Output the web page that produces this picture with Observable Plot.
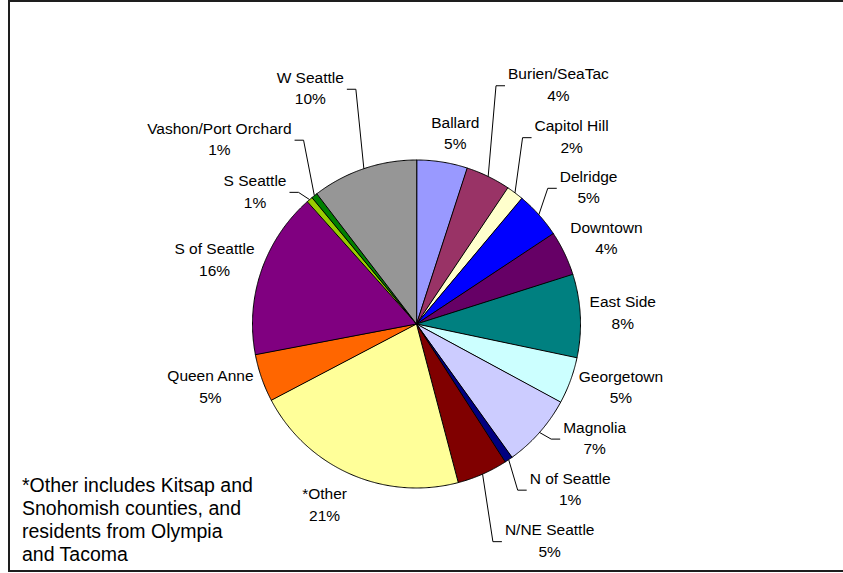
<!DOCTYPE html>
<html><head><meta charset="utf-8">
<script src="https://cdn.jsdelivr.net/npm/d3@7"></script>
<script src="https://cdn.jsdelivr.net/npm/@observablehq/plot@0.6"></script>
<style>
html,body{margin:0;padding:0;background:#fff;}
#wrap{position:relative;width:843px;height:573px;overflow:hidden;}
#chart{position:absolute;left:0;top:0;}
#frame{position:absolute;left:8px;top:0;width:900px;height:572px;border:2px solid #1e1e1e;box-sizing:border-box;pointer-events:none;}
</style></head><body>
<div id="wrap"><div id="chart"></div><div id="frame"></div></div>
<script>
// Data (clockwise from 12 o'clock)
const names = ["Ballard","Burien/SeaTac","Capitol Hill","Delridge","Downtown","East Side","Georgetown","Magnolia","N of Seattle","N/NE Seattle","*Other","Queen Anne","S of Seattle","S Seattle","Vashon/Port Orchard","W Seattle"];
const values = [5.0, 4.4, 1.7, 4.6, 4.4, 8.2, 4.6, 7.2, 0.8, 5.0, 21.4, 4.7, 16.4, 0.6, 0.6, 10.4];
const colors = ["#9999FF","#993366","#FFFFCC","#0000FF","#660066","#008080","#CCFFFF","#CCCCFF","#000080","#800000","#FFFF99","#FF6600","#800080","#99CC00","#008000","#969696"];
const hasLeader = [false,true,true,true,false,false,false,true,true,true,false,false,false,true,true,true];
// Label layout: angle nudge from slice middle (degrees) and distance (in pie radii)
const labelNudge = [2.4, 4.6, 2.5, 3.0, 0.9, -0.7, -3.4, -9.1, -9.0, -8.0, 3.4, 2.7, -0.7, -9.6, -8.1, -5.4];
const labelRadius = [1.197, 1.704, 1.49, 1.346, 1.274, 1.26, 1.302, 1.285, 1.369, 1.543, 1.228, 1.311, 1.295, 1.28, 1.654, 1.585];
const footnote = "*Other includes Kitsap and\nSnohomish counties, and\nresidents from Olympia\nand Tacoma";

const W = 843, H = 573, CX = 416, CY = 323.5, R = 164;
const FS = 15.5;
const FONT = "'Liberation Sans', Arial, Helvetica, sans-serif";

const data = names.map((name, i) => ({name, value: values[i], color: colors[i], i}));
const total = d3.sum(values);
const arcs = d3.pie().sort(null).value(d => d.value)(data);

const ctx = document.createElement("canvas").getContext("2d");
ctx.font = `${FS}px ${FONT}`;

const slicePts = [];
const labels = [];
const leaderPts = [];
const deg = Math.PI / 180;
for (const a of arcs) {
  const d = a.data;
  slicePts.push({name: d.name, color: d.color, x: 0, y: 0});
  const n = Math.max(2, Math.ceil((a.endAngle - a.startAngle) / (0.4 * deg)));
  for (let k = 0; k <= n; ++k) {
    const t = a.startAngle + (a.endAngle - a.startAngle) * k / n;
    slicePts.push({name: d.name, color: d.color, x: Math.sin(t), y: -Math.cos(t)});
  }
  const mid = (a.startAngle + a.endAngle) / 2;
  const la = mid + labelNudge[d.i] * deg;
  const lr = labelRadius[d.i];
  const lx = Math.sin(la) * lr, ly = -Math.cos(la) * lr;
  const pct = Math.round(d.value / total * 100) + "%";
  labels.push({x: lx, y: ly, text: d.name + "\n" + pct});
  if (hasLeader[d.i]) {
    const w = Math.max(ctx.measureText(d.name).width, ctx.measureText(pct).width);
    const side = lx > 0 ? -1 : 1;
    const px = lx + side * (w / 2 + 3) / R;
    const ex = px + side * 9 / R;
    const py = ly + 2.5 / R;
    leaderPts.push({name: d.name, x: Math.sin(mid), y: -Math.cos(mid)});
    leaderPts.push({name: d.name, x: ex, y: py});
    leaderPts.push({name: d.name, x: px, y: py});
  }
}

const chart = Plot.plot({
  width: W, height: H, margin: 0,
  x: {domain: [-CX / R, (W - CX) / R], range: [0, W], axis: null},
  y: {domain: [-CY / R, (H - CY) / R], range: [0, H], axis: null},
  color: {type: "identity"},
  style: {fontFamily: FONT, background: "transparent", color: "#000"},
  marks: [
    Plot.line(slicePts, {x: "x", y: "y", z: "name", fill: "color", stroke: "#000", strokeWidth: 1, curve: "linear-closed"}),
    Plot.line(leaderPts, {x: "x", y: "y", z: "name", stroke: "#000", strokeWidth: 1, strokeLinejoin: "miter", strokeLinecap: "butt"}),
    Plot.text(labels, {x: "x", y: "y", text: "text", fontSize: FS, lineHeight: 1.39, fill: "#000"}),
    Plot.text([footnote], {frameAnchor: "top-left", dx: 21.5, dy: 475, text: d => d, textAnchor: "start", lineAnchor: "top", fontSize: 19.5, lineHeight: 1.18, fill: "#000"})
  ]
});
document.getElementById("chart").appendChild(chart);
</script>
</body></html>
